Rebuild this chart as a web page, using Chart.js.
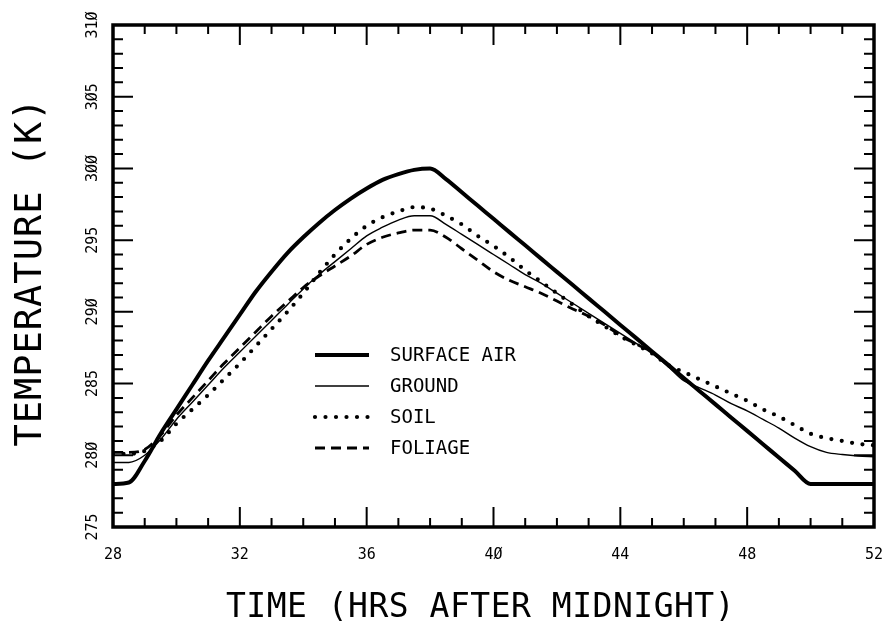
<!DOCTYPE html>
<html>
<head>
<meta charset="utf-8">
<script src="https://cdn.jsdelivr.net/npm/chart.js@4.4.1/dist/chart.umd.min.js"></script>
<style>
  body { margin: 0; background: #fff; }
  #grafico { display: block; }
</style>
</head>
<body>
<canvas id="grafico" width="887" height="633"></canvas>
<script>
// Horas depois da meia-noite (eixo x)
var hours = [28, 28.5, 29, 29.5, 30, 30.5, 31, 31.5, 32, 32.5, 33, 33.5, 34, 34.5, 35, 35.5,
  36, 36.5, 37, 37.5, 38, 38.5, 39, 39.5, 40, 40.5, 41, 41.5, 42, 42.5, 43, 43.5,
  44, 44.5, 45, 45.5, 46, 46.5, 47, 47.5, 48, 48.5, 49, 49.5, 50, 50.5, 51, 51.5, 52];

// Temperaturas (K)
var surface_air = [278.0, 278.1, 279.6, 281.5, 283.2, 284.9, 286.6, 288.2, 289.8, 291.4, 292.8, 294.1,
  295.2, 296.2, 297.1, 297.9, 298.6, 299.2, 299.6, 299.9, 300.0, 299.26, 298.34, 297.41,
  296.49, 295.56, 294.64, 293.71, 292.79, 291.87, 290.94, 290.02, 289.09, 288.17, 287.24, 286.32,
  285.39, 284.47, 283.55, 282.62, 281.70, 280.77, 279.85, 278.92, 278.0, 278.0, 278.0, 278.0, 278.0];

var ground = [279.5, 279.5, 280.0, 281.1, 282.5, 283.7, 284.9, 286.1, 287.2, 288.3, 289.4, 290.5,
  291.6, 292.6, 293.5, 294.4, 295.3, 295.9, 296.4, 296.7, 296.7, 296.1, 295.4, 294.7,
  294.0, 293.3, 292.6, 292.0, 291.3, 290.6, 289.9, 289.2, 288.5, 287.8, 287.1, 286.2,
  285.2, 284.7, 284.2, 283.6, 283.1, 282.5, 281.9, 281.2, 280.6, 280.2, 280.05, 279.95, 279.9];

var soil = [280.1, 280.1, 280.3, 281.0, 282.2, 283.2, 284.2, 285.3, 286.4, 287.6, 288.8, 290.0,
  291.3, 292.7, 294.0, 295.1, 296.0, 296.6, 297.0, 297.3, 297.2, 296.7, 296.1, 295.3,
  294.6, 293.8, 292.9, 292.1, 291.3, 290.5, 289.7, 289.0, 288.3, 287.7, 287.1, 286.3,
  285.8, 285.3, 284.8, 284.3, 283.8, 283.2, 282.7, 282.1, 281.5, 281.2, 281.0, 280.8, 280.7];

var foliage = [280.2, 280.2, 280.4, 281.4, 282.8, 284.0, 285.2, 286.4, 287.5, 288.6, 289.7, 290.7,
  291.7, 292.5, 293.2, 293.9, 294.7, 295.2, 295.5, 295.7, 295.7, 295.2, 294.4, 293.6,
  292.8, 292.2, 291.75, 291.3, 290.75, 290.2, 289.7, 289.1, 288.35, 287.75, 287.2, 286.32,
  285.39, 284.47, 283.55, 282.62, 281.70, 280.77, 279.85, 278.92, 278.0, 278.0, 278.0, 278.0, 278.0];

// Rotulos dos eixos (zero cortado, como no original)
var x_tick_values = [28, 32, 36, 40, 44, 48, 52];
var x_tick_labels = ['28', '32', '36', '4Ø', '44', '48', '52'];
var y_tick_values = [275, 280, 285, 290, 295, 300, 305, 310];
var y_tick_labels = ['275', '28Ø', '285', '29Ø', '295', '3ØØ', '3Ø5', '31Ø'];

var series_names = ['SURFACE AIR', 'GROUND', 'SOIL', 'FOLIAGE'];

function pontos(valores) {
  return hours.map(function (h, i) { return { x: h, y: valores[i] }; });
}

var fonte = '"DejaVu Sans Mono", monospace';

// estilos de cada linha (usados tambem na legenda)
var estilos = [
  { borderWidth: 4, borderDash: [], borderCapStyle: 'butt' },
  { borderWidth: 1.4, borderDash: [], borderCapStyle: 'butt' },
  { borderWidth: 4.2, borderDash: [0, 10.5], borderCapStyle: 'round' },
  { borderWidth: 2.8, borderDash: [10, 6], borderCapStyle: 'butt' }
];

// Moldura, marcas dos eixos, rotulos, titulos e legenda
var moldura = {
  id: 'moldura',
  afterDraw: function (chart) {
    var ctx = chart.ctx;
    var area = chart.chartArea;
    var sx = chart.scales.x;
    var sy = chart.scales.y;
    ctx.save();
    ctx.strokeStyle = '#000';
    ctx.fillStyle = '#000';
    ctx.lineCap = 'butt';

    // marcas do eixo x (em baixo e em cima)
    ctx.lineWidth = 2;
    for (var h = sx.min; h <= sx.max; h++) {
      var px = sx.getPixelForValue(h);
      var tam = ((h - sx.min) % 4 == 0) ? 20 : 9;
      ctx.beginPath();
      ctx.moveTo(px, area.bottom); ctx.lineTo(px, area.bottom - tam);
      ctx.moveTo(px, area.top); ctx.lineTo(px, area.top + tam);
      ctx.stroke();
    }
    // marcas do eixo y (esquerda e direita)
    for (var t = sy.min; t <= sy.max; t++) {
      var py = sy.getPixelForValue(t);
      var tam2 = (t % 5 == 0) ? 20 : 10;
      ctx.beginPath();
      ctx.moveTo(area.left, py); ctx.lineTo(area.left + tam2, py);
      ctx.moveTo(area.right, py); ctx.lineTo(area.right - tam2, py);
      ctx.stroke();
    }

    // moldura
    ctx.lineWidth = 3.5;
    ctx.strokeRect(area.left, area.top, area.right - area.left, area.bottom - area.top);

    // rotulos do eixo x
    ctx.font = '15px ' + fonte;
    ctx.textAlign = 'center';
    ctx.textBaseline = 'middle';
    x_tick_values.forEach(function (v, i) {
      ctx.fillText(x_tick_labels[i], sx.getPixelForValue(v), area.bottom + 28);
    });

    // rotulos do eixo y (girados)
    y_tick_values.forEach(function (v, i) {
      ctx.save();
      ctx.translate(area.left - 20, sy.getPixelForValue(v));
      ctx.rotate(-Math.PI / 2);
      ctx.fillText(y_tick_labels[i], 0, 0);
      ctx.restore();
    });

    // titulo do eixo x
    ctx.font = '33px ' + fonte;
    ctx.letterSpacing = '0.5px';
    ctx.fillText('TIME (HRS AFTER MIDNIGHT)', (area.left + area.right) / 2 - 13, area.bottom + 81);

    // titulo do eixo y
    ctx.save();
    ctx.font = '37px ' + fonte;
    ctx.letterSpacing = '1px';
    ctx.translate(31, (area.top + area.bottom) / 2 - 4);
    ctx.rotate(-Math.PI / 2);
    ctx.fillText('TEMPERATURE (K)', 0, 0);
    ctx.restore();
    ctx.letterSpacing = '0px';

    // legenda dentro do grafico
    ctx.font = '19px ' + fonte;
    ctx.textAlign = 'left';
    series_names.forEach(function (nome, i) {
      var ly = area.top + 330 + i * 31;
      var est = estilos[i];
      ctx.save();
      ctx.lineWidth = est.borderWidth;
      ctx.lineCap = est.borderCapStyle;
      ctx.setLineDash(est.borderDash);
      ctx.beginPath();
      ctx.moveTo(area.left + 202, ly);
      ctx.lineTo(area.left + 256, ly);
      ctx.stroke();
      ctx.restore();
      ctx.fillText(nome, area.left + 277, ly + 1);
    });

    ctx.restore();
  }
};

var dados = [surface_air, ground, soil, foliage];

new Chart(document.getElementById('grafico'), {
  type: 'line',
  data: {
    datasets: dados.map(function (valores, i) {
      return {
        label: series_names[i],
        data: pontos(valores),
        borderColor: '#000',
        borderWidth: estilos[i].borderWidth,
        borderDash: estilos[i].borderDash,
        borderCapStyle: estilos[i].borderCapStyle,
        borderJoinStyle: 'round',
        cubicInterpolationMode: 'monotone',
        pointRadius: 0,
        fill: false
      };
    })
  },
  options: {
    responsive: false,
    animation: false,
    devicePixelRatio: 1,
    layout: { padding: { left: 113, right: 13, top: 25, bottom: 106 } },
    scales: {
      x: { type: 'linear', min: 28, max: 52, display: false },
      y: { type: 'linear', min: 275, max: 310, display: false }
    },
    plugins: {
      legend: { display: false },
      tooltip: { enabled: false }
    }
  },
  plugins: [moldura]
});
</script>
</body>
</html>
